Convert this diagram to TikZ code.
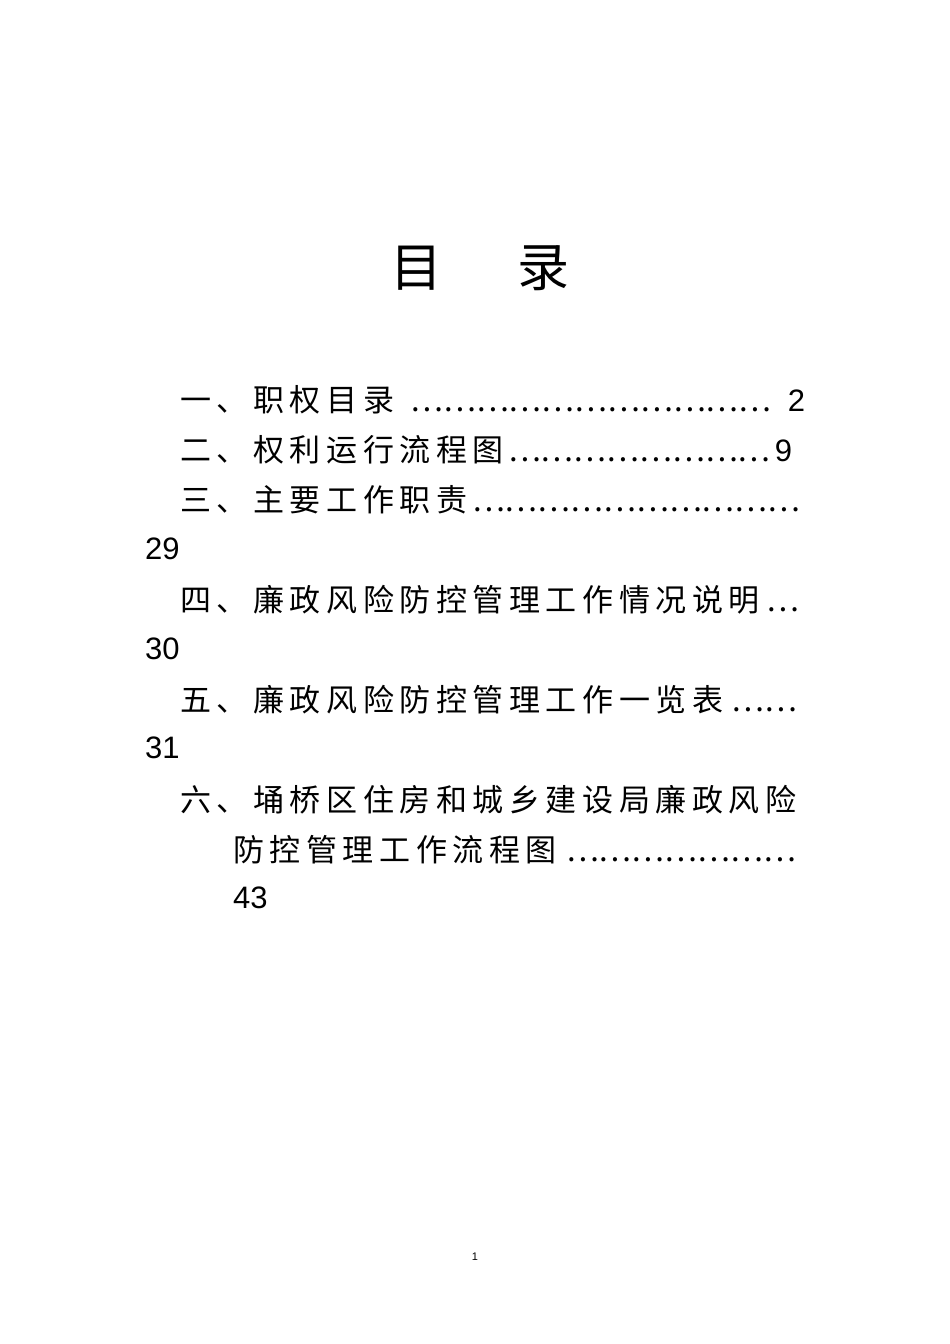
\documentclass[tikz,border=0pt]{standalone}
\usepackage{fontspec}
\newfontfamily\cjk{Noto Sans CJK SC}
\newfontfamily\cjks[LetterSpace=18]{Noto Sans CJK SC}
\setmainfont{Liberation Sans}
\begin{document}
\begin{tikzpicture}[x=1pt,y=-1pt]
\tikzset{tocline/.style={anchor=west,inner sep=0pt,font=\fontsize{31}{31}\selectfont}}
\useasboundingbox[fill=white] (0,0) rectangle (950,1344);
\newcommand{\dts}{\cleaders\hbox{\cjk …}\hfill}
\node[anchor=center,inner sep=0pt,font=\cjk\fontsize{52}{52}\selectfont] (title) at (480,268) {目\hspace{75pt}录};
\node[tocline] (l1) at (180,400) {\makebox[625pt][l]{\cjks 一、职权目录\dts\rm 2}};
\node[tocline] (l2) at (180,450) {\makebox[612pt][l]{\cjks 二、权利运行流程图\dts\rm 9}};
\node[tocline] (l3) at (180,500) {\makebox[625pt][l]{\cjks 三、主要工作职责\dts}};
\node[tocline] (l3n) at (145,549) {29};
\node[tocline] (l4) at (180,600) {\makebox[625pt][l]{\cjks 四、廉政风险防控管理工作情况说明\dts}};
\node[tocline] (l4n) at (145,649) {30};
\node[tocline] (l5) at (180,700) {\makebox[625pt][l]{\cjks 五、廉政风险防控管理工作一览表\dts}};
\node[tocline] (l5n) at (145,748) {31};
\node[tocline] (l6) at (180,800) {\cjks 六、埇桥区住房和城乡建设局廉政风险};
\node[tocline] (l6b) at (233,850) {\makebox[572pt][l]{\cjks 防控管理工作流程图\dts}};
\node[tocline] (l6n) at (233,898) {43};
\node[inner sep=0pt,font=\fontsize{11}{11}\selectfont\rmfamily] (pg) at (475,1257) {1};
\end{tikzpicture}
\end{document}
